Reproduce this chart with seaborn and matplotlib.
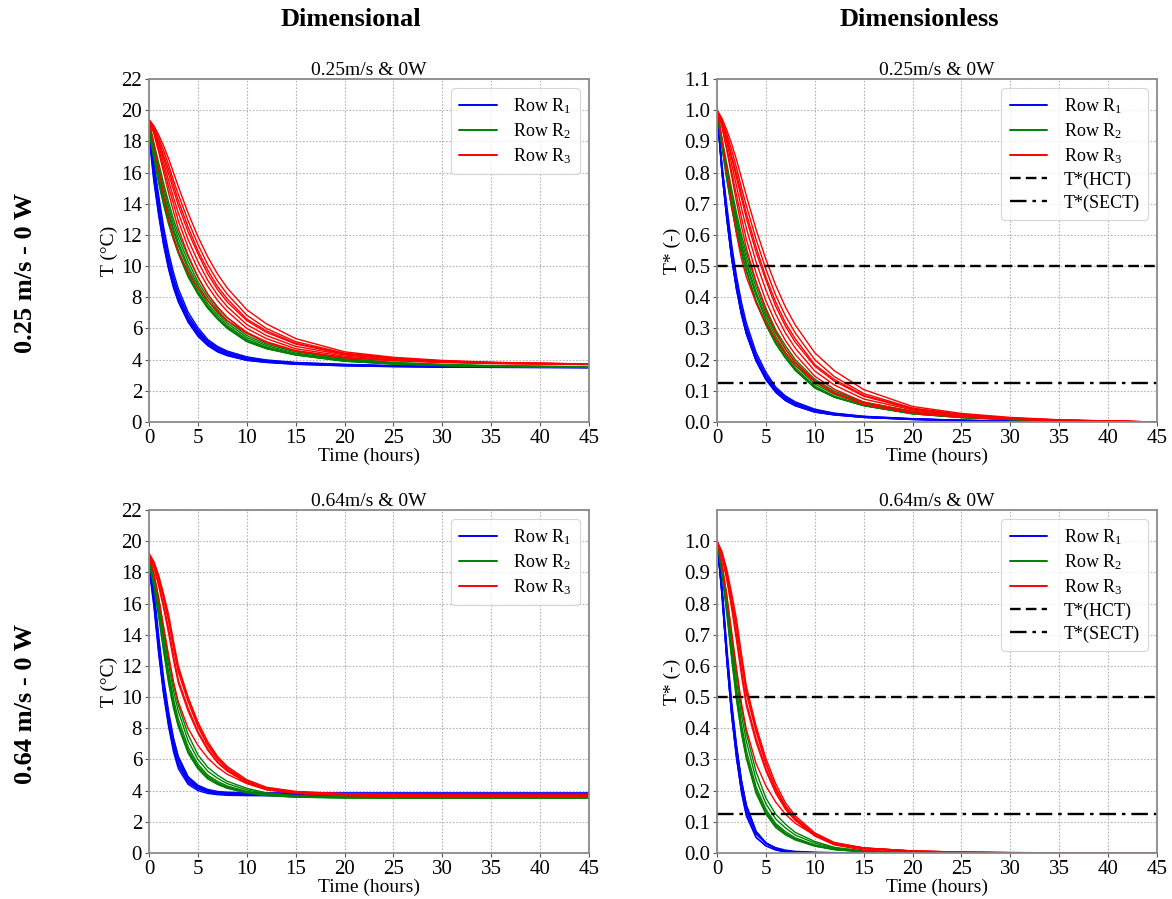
import matplotlib
matplotlib.use("Agg")
import numpy as np
import pandas as pd
import matplotlib.pyplot as plt
from matplotlib.lines import Line2D
import seaborn as sns

# ---------------------------------------------------------------------------
# Cooling curves: temperature (°C) of each thermocouple, per row of products
# ---------------------------------------------------------------------------
hours = [0, 0.5, 1, 1.5, 2, 2.5, 3, 4, 5, 6, 7, 8, 10, 12, 15, 20, 25, 30, 35, 45]

# air velocity 0.25 m/s, 0 W
slow_r1 = [
    [19.0, 16.1, 13.8, 11.8, 10.2, 9.0, 8.0, 6.6, 5.7, 5.05, 4.65, 4.38, 4.05, 3.9, 3.75, 3.65, 3.58, 3.55, 3.53, 3.5],
    [18.3, 15.4, 13.2, 11.3, 9.8, 8.6, 7.7, 6.4, 5.5, 4.9, 4.5, 4.25, 3.95, 3.82, 3.7, 3.6, 3.55, 3.52, 3.5, 3.48],
    [19.2, 16.4, 14.2, 12.2, 10.6, 9.3, 8.3, 6.85, 5.9, 5.2, 4.78, 4.48, 4.12, 3.95, 3.8, 3.68, 3.6, 3.57, 3.55, 3.52],
    [18.8, 15.8, 13.5, 11.5, 10.0, 8.8, 7.85, 6.5, 5.6, 4.98, 4.58, 4.32, 4.0, 3.86, 3.73, 3.63, 3.57, 3.54, 3.52, 3.5],
    [19.3, 16.6, 14.5, 12.5, 10.9, 9.6, 8.55, 7.05, 6.05, 5.3, 4.85, 4.55, 4.18, 3.98, 3.82, 3.7, 3.62, 3.58, 3.56, 3.53],
    [18.6, 15.6, 13.3, 11.4, 9.9, 8.7, 7.75, 6.45, 5.55, 4.93, 4.53, 4.28, 3.97, 3.83, 3.71, 3.61, 3.56, 3.53, 3.51, 3.49],
    [19.1, 16.3, 14.0, 12.0, 10.4, 9.15, 8.15, 6.75, 5.8, 5.12, 4.7, 4.42, 4.08, 3.92, 3.77, 3.66, 3.59, 3.56, 3.54, 3.51],
]
slow_r2 = [
    [19.0, 17.4, 15.9, 14.5, 13.3, 12.2, 11.3, 9.8, 8.6, 7.6, 6.85, 6.2, 5.3, 4.8, 4.35, 3.95, 3.75, 3.65, 3.58, 3.52],
    [18.6, 16.9, 15.3, 13.9, 12.7, 11.7, 10.8, 9.3, 8.2, 7.3, 6.6, 6.0, 5.15, 4.7, 4.3, 3.9, 3.72, 3.62, 3.56, 3.5],
    [19.2, 17.7, 16.3, 15.0, 13.8, 12.7, 11.8, 10.3, 9.0, 8.0, 7.2, 6.5, 5.55, 5.0, 4.5, 4.05, 3.8, 3.68, 3.6, 3.53],
    [18.9, 17.2, 15.6, 14.2, 13.0, 11.9, 11.0, 9.5, 8.4, 7.45, 6.7, 6.1, 5.2, 4.75, 4.32, 3.92, 3.73, 3.63, 3.57, 3.51],
    [19.3, 17.9, 16.6, 15.3, 14.1, 13.0, 12.1, 10.6, 9.3, 8.2, 7.4, 6.7, 5.7, 5.1, 4.55, 4.08, 3.82, 3.7, 3.62, 3.54],
    [18.8, 17.0, 15.4, 14.0, 12.8, 11.8, 10.9, 9.4, 8.3, 7.35, 6.65, 6.05, 5.2, 4.72, 4.3, 3.9, 3.72, 3.62, 3.56, 3.5],
    [19.1, 17.5, 16.0, 14.7, 13.5, 12.4, 11.5, 10.0, 8.8, 7.8, 7.0, 6.35, 5.42, 4.9, 4.42, 4.0, 3.77, 3.66, 3.59, 3.52],
]
slow_r3 = [
    [19.4, 19.0, 18.4, 17.7, 16.9, 16.0, 15.1, 13.4, 11.9, 10.6, 9.5, 8.6, 7.2, 6.3, 5.35, 4.5, 4.15, 3.95, 3.83, 3.72],
    [19.4, 18.9, 18.2, 17.4, 16.5, 15.5, 14.6, 12.9, 11.4, 10.1, 9.05, 8.2, 6.85, 6.0, 5.15, 4.42, 4.1, 3.92, 3.82, 3.72],
    [19.3, 18.8, 17.9, 16.9, 15.9, 14.9, 13.9, 12.2, 10.8, 9.5, 8.5, 7.7, 6.5, 5.75, 5.0, 4.35, 4.06, 3.9, 3.8, 3.71],
    [19.3, 18.7, 17.7, 16.6, 15.5, 14.4, 13.4, 11.7, 10.3, 9.1, 8.15, 7.4, 6.25, 5.55, 4.85, 4.3, 4.03, 3.88, 3.79, 3.7],
    [19.4, 18.6, 17.5, 16.3, 15.1, 14.0, 12.9, 11.2, 9.8, 8.7, 7.8, 7.1, 6.0, 5.35, 4.7, 4.22, 3.98, 3.85, 3.77, 3.7],
    [19.3, 18.5, 17.3, 16.0, 14.7, 13.5, 12.4, 10.7, 9.3, 8.2, 7.35, 6.7, 5.75, 5.15, 4.58, 4.14, 3.94, 3.83, 3.76, 3.69],
    [19.4, 18.8, 18.0, 17.1, 16.2, 15.2, 14.2, 12.5, 11.0, 9.75, 8.7, 7.9, 6.6, 5.85, 5.05, 4.38, 4.08, 3.91, 3.81, 3.71],
    [19.2, 17.8, 16.2, 14.5, 13.0, 11.8, 10.9, 9.6, 8.6, 7.8, 7.1, 6.5, 5.7, 5.1, 4.55, 4.12, 3.93, 3.82, 3.75, 3.68],
]

# air velocity 0.64 m/s, 0 W
fast_r1 = [
    [18.8, 16.5, 13.3, 10.6, 8.6, 7.0, 5.8, 4.65, 4.2, 3.98, 3.86, 3.8, 3.76, 3.74, 3.73, 3.72, 3.72, 3.72, 3.72, 3.72],
    [18.3, 15.8, 12.7, 10.1, 8.1, 6.5, 5.4, 4.4, 4.0, 3.82, 3.74, 3.7, 3.68, 3.67, 3.67, 3.67, 3.67, 3.67, 3.67, 3.67],
    [19.0, 16.9, 13.9, 11.2, 9.1, 7.4, 6.2, 4.9, 4.35, 4.08, 3.95, 3.9, 3.87, 3.86, 3.86, 3.86, 3.86, 3.86, 3.86, 3.86],
    [18.6, 16.2, 13.0, 10.3, 8.3, 6.7, 5.6, 4.5, 4.1, 3.9, 3.8, 3.77, 3.76, 3.76, 3.76, 3.76, 3.76, 3.76, 3.76, 3.76],
    [18.9, 16.7, 13.6, 10.9, 8.9, 7.3, 6.1, 4.85, 4.3, 4.02, 3.9, 3.84, 3.81, 3.8, 3.8, 3.8, 3.8, 3.8, 3.8, 3.8],
    [18.5, 16.0, 12.9, 10.3, 8.3, 6.8, 5.7, 4.6, 4.15, 3.92, 3.8, 3.75, 3.72, 3.7, 3.7, 3.7, 3.7, 3.7, 3.7, 3.7],
    [18.7, 16.4, 13.4, 10.8, 8.8, 7.2, 6.0, 4.75, 4.25, 4.0, 3.88, 3.83, 3.8, 3.79, 3.79, 3.79, 3.79, 3.79, 3.79, 3.79],
]
fast_r2 = [
    [18.9, 17.6, 15.8, 13.7, 11.6, 9.9, 8.6, 6.8, 5.7, 5.0, 4.6, 4.3, 3.95, 3.75, 3.62, 3.57, 3.55, 3.55, 3.55, 3.55],
    [18.6, 17.1, 15.1, 12.9, 10.9, 9.3, 8.1, 6.4, 5.4, 4.75, 4.4, 4.15, 3.85, 3.68, 3.58, 3.53, 3.52, 3.52, 3.52, 3.52],
    [19.0, 17.8, 16.1, 14.1, 12.1, 10.4, 9.1, 7.2, 6.0, 5.25, 4.8, 4.45, 4.05, 3.8, 3.65, 3.58, 3.56, 3.56, 3.56, 3.56],
    [18.8, 17.4, 15.5, 13.4, 11.3, 9.6, 8.3, 6.6, 5.55, 4.9, 4.5, 4.22, 3.9, 3.72, 3.6, 3.55, 3.54, 3.54, 3.54, 3.54],
    [19.0, 17.9, 16.3, 14.4, 12.5, 10.8, 9.5, 7.6, 6.3, 5.5, 5.0, 4.6, 4.15, 3.86, 3.68, 3.6, 3.58, 3.58, 3.58, 3.58],
    [18.7, 17.2, 15.3, 13.1, 11.1, 9.45, 8.2, 6.5, 5.5, 4.85, 4.45, 4.2, 3.88, 3.7, 3.59, 3.54, 3.53, 3.53, 3.53, 3.53],
]
fast_r3 = [
    [19.2, 18.6, 17.6, 16.3, 14.9, 13.2, 11.6, 9.7, 8.1, 6.9, 6.0, 5.4, 4.6, 4.15, 3.9, 3.75, 3.7, 3.67, 3.66, 3.65],
    [19.1, 18.4, 17.3, 15.9, 14.4, 12.7, 11.1, 9.3, 7.8, 6.7, 5.85, 5.3, 4.55, 4.1, 3.85, 3.7, 3.64, 3.61, 3.6, 3.6],
    [19.2, 18.7, 17.8, 16.6, 15.3, 13.6, 12.0, 10.0, 8.4, 7.15, 6.2, 5.55, 4.7, 4.22, 3.95, 3.8, 3.74, 3.72, 3.71, 3.7],
    [19.0, 18.3, 17.1, 15.7, 14.1, 12.4, 10.9, 9.1, 7.7, 6.6, 5.8, 5.25, 4.5, 4.08, 3.85, 3.72, 3.68, 3.66, 3.65, 3.65],
    [19.0, 17.9, 16.3, 14.5, 12.7, 11.0, 9.7, 8.0, 6.9, 6.1, 5.5, 5.05, 4.45, 4.05, 3.82, 3.68, 3.62, 3.6, 3.58, 3.58],
    [19.2, 18.6, 17.6, 16.4, 15.0, 13.4, 11.8, 9.9, 8.25, 7.0, 6.1, 5.45, 4.62, 4.18, 3.92, 3.8, 3.78, 3.78, 3.78, 3.78],
]

row_names = ["Row R$_1$", "Row R$_2$", "Row R$_3$"]
row_colors = ["blue", "green", "red"]
panel_titles = ["0.25m/s & 0W", "0.64m/s & 0W"]
case_labels = ["0.25 m/s - 0 W", "0.64 m/s - 0 W"]
column_labels = ["Dimensional", "Dimensionless"]
t_star_hct = 0.5
t_star_sect = 0.125


def to_frame(rows):
    """Long-form table: one record per (row, sensor, time) with T and T*."""
    records = []
    for name, sensors in zip(row_names, rows):
        for k, temps in enumerate(sensors):
            temps = np.asarray(temps, dtype=float)
            t_star = (temps - temps[-1]) / (temps[0] - temps[-1])
            for h, T, Ts in zip(hours, temps, t_star):
                records.append({"row": name, "sensor": f"{name}-{k}",
                                "time": h, "T": T, "Tstar": Ts})
    return pd.DataFrame.from_records(records)


frames = [to_frame([slow_r1, slow_r2, slow_r3]),
          to_frame([fast_r1, fast_r2, fast_r3])]

sns.set_theme(style="white")
plt.rcParams["font.family"] = ["Liberation Serif", "DejaVu Serif"]
plt.rcParams["mathtext.fontset"] = "custom"
plt.rcParams["mathtext.rm"] = "Liberation Serif"
plt.rcParams["mathtext.it"] = "Liberation Serif:italic"
for key in ("text.color", "axes.labelcolor", "xtick.color", "ytick.color"):
    plt.rcParams[key] = "black"

fig = plt.figure(figsize=(11.72, 8.99), dpi=100)
W, H = 1172.0, 899.0
lefts = [149, 717]
tops = [79, 510]
aw, ah = 440, 343

palette = dict(zip(row_names, row_colors))
hct_dash = (4.5, 2.2)
sect_dash = (7, 2.5, 1.5, 2.5)

for i, df in enumerate(frames):
    for j in range(2):
        ax = fig.add_axes([lefts[j] / W, 1 - (tops[i] + ah) / H, aw / W, ah / H])
        ycol = "T" if j == 0 else "Tstar"
        sns.lineplot(data=df, x="time", y=ycol, hue="row", units="sensor",
                     estimator=None, palette=palette, hue_order=row_names,
                     linewidth=1.0, legend=False, sort=False, ax=ax)
        handles = [Line2D([], [], color=c, lw=1.4) for c in row_colors]
        labels = list(row_names)
        if j == 0:
            ax.set_ylim(0, 22)
            ax.set_yticks(np.arange(0, 23, 2))
            ax.set_ylabel("T (°C)", fontsize=14, labelpad=2)
        else:
            ax.axhline(t_star_hct, color="black", lw=1.7, dashes=hct_dash)
            ax.axhline(t_star_sect, color="black", lw=1.7, dashes=sect_dash)
            ax.set_ylim(0, 1.1)
            top_tick = 1.1 if i == 0 else 1.0
            ticks = np.round(np.arange(0, top_tick + 0.001, 0.1), 1)
            ax.set_yticks(ticks)
            ax.set_yticklabels([f"{v:.1f}" for v in ticks])
            ax.set_ylabel("T* (-)", fontsize=14, labelpad=2)
            handles += [Line2D([], [], color="black", lw=1.7, dashes=hct_dash),
                        Line2D([], [], color="black", lw=1.7, dashes=sect_dash)]
            labels += ["T*(HCT)", "T*(SECT)"]
        ax.set_xlim(0, 45)
        ax.set_xticks(np.arange(0, 46, 5))
        ax.set_xlabel("Time (hours)", fontsize=14, labelpad=0)
        ax.set_title(panel_titles[i], fontsize=14, pad=3, color="black")
        ax.tick_params(axis="both", labelsize=15, length=3, width=0.8,
                       color="#555555", labelcolor="black", pad=2,
                       left=True, bottom=True)
        ax.grid(True, color="#b4b4b4", linestyle=(0, (1.5, 1.5)), linewidth=0.8)
        ax.set_axisbelow(True)
        for sp in ax.spines.values():
            sp.set_color("#8a8a8a")
            sp.set_linewidth(1.3)
        leg = ax.legend(handles, labels, loc="upper right", fontsize=13,
                        handlelength=2.1, handletextpad=0.9, labelspacing=0.3,
                        borderaxespad=0.5, borderpad=0.45, frameon=True,
                        fancybox=True, labelcolor="black")
        leg.get_frame().set_edgecolor("#cccccc")
        leg.get_frame().set_linewidth(0.8)

for j, txt in enumerate(column_labels):
    cx = (lefts[j] + aw / 2 - 18) / W
    fig.text(cx, 1 - 20 / H, txt, ha="center", va="center",
             fontsize=19, fontweight="bold", color="black")
for i, txt in enumerate(case_labels):
    cy = 1 - (tops[i] + ah / 2 + 22) / H
    fig.text(25 / W, cy, txt, ha="center", va="center", rotation=90,
             fontsize=19, fontweight="bold", color="black")

fig.savefig("out.png", dpi=100, facecolor="white")
